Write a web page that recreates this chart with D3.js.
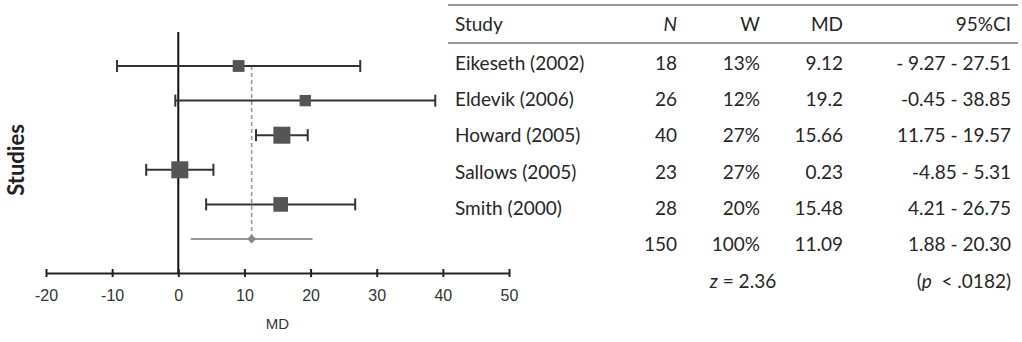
<!DOCTYPE html>
<html lang="en">

<head>
    <meta charset="UTF-8">
    <title>Forest plot</title>
    <script src="https://d3js.org/d3.v7.min.js"></script>
    <style>
        body { margin: 0; background: #fff; }
        .tbl { font-family: Lato, "Open Sans", sans-serif; font-size: 19px; fill: #262626; }
        .axis path, .axis line { stroke: #222; stroke-width: 2px; }
    </style>
</head>

<body>
    <svg></svg>
</body>

<script>
    // data
    const studies = ["Eikeseth (2002)", "Eldevik (2006)", "Howard (2005)", "Sallows (2005)", "Smith (2000)"];
    const nVals = [18, 26, 40, 23, 28];
    const weights = [13, 12, 27, 27, 20];
    const md = [9.12, 19.2, 15.66, 0.23, 15.48];
    const ciLow = [-9.27, -0.45, 11.75, -4.85, 4.21];
    const ciHigh = [27.51, 38.85, 19.57, 5.31, 26.75];
    const mdLabels = ["9.12", "19.2", "15.66", "0.23", "15.48"];
    const ciLabels = ["- 9.27 - 27.51", "-0.45 - 38.85", "11.75 - 19.57", "-4.85 - 5.31", "4.21 - 26.75"];

    // pooled result
    const totalN = 150, totalW = 100, pooledMD = 11.09, pooledLow = 1.88, pooledHigh = 20.30;
    const zLabel = "2.36", pLabel = ".0182";

    const xTicks = [-20, -10, 0, 10, 20, 30, 40, 50];

    const W = 1022, H = 342;
    const svg = d3.select("svg").attr("width", W).attr("height", H);

    const x = d3.scaleLinear().domain([-20, 50]).range([46, 509]);
    const rows = studies.concat(["Pooled"]);
    const y = d3.scalePoint().domain(rows).range([66, 239]);
    const size = d3.scaleSqrt().domain([0, 27]).range([0, 17]);
    const axisY = 273;

    // zero line
    svg.append("line")
        .attr("x1", x(0)).attr("x2", x(0))
        .attr("y1", 32).attr("y2", axisY)
        .attr("stroke", "#111").attr("stroke-width", 2);

    // dashed pooled line
    svg.append("line")
        .attr("x1", x(pooledMD)).attr("x2", x(pooledMD))
        .attr("y1", y(studies[0])).attr("y2", y("Pooled"))
        .attr("stroke", "#999").attr("stroke-width", 1.6)
        .attr("stroke-dasharray", "4,3");

    // axis
    const axis = svg.append("g")
        .attr("class", "axis")
        .attr("transform", `translate(0,${axisY})`)
        .call(d3.axisBottom(x).tickValues(xTicks).tickFormat(d => String(d))
            .tickSizeOuter(0).tickSizeInner(4).tickPadding(13))
        .attr("font-family", "'Liberation Sans', Arial, sans-serif")
        .attr("font-size", 16);
    axis.selectAll(".tick line").attr("y1", -4).attr("y2", 4);
    axis.selectAll(".tick text").attr("fill", "#333");

    svg.append("text")
        .attr("x", x(15)).attr("y", 323)
        .attr("text-anchor", "middle").attr("dominant-baseline", "central")
        .style("font-family", "'Liberation Sans', Arial, sans-serif")
        .style("font-size", "15px").style("fill", "#333")
        .text("MD");

    svg.append("text")
        .attr("transform", "translate(15,160) rotate(-90)")
        .attr("text-anchor", "middle").attr("dominant-baseline", "central")
        .style("font-family", "Lato, sans-serif")
        .style("font-size", "22px").style("font-weight", "bold").style("fill", "#222")
        .text("Studies");

    // study CIs
    const g = svg.selectAll(".study")
        .data(studies)
        .enter().append("g")
        .attr("class", "study");

    g.append("line")
        .attr("x1", (d, i) => x(ciLow[i])).attr("x2", (d, i) => x(ciHigh[i]))
        .attr("y1", d => y(d)).attr("y2", d => y(d))
        .attr("stroke", "#333").attr("stroke-width", 2);
    g.append("line")
        .attr("x1", (d, i) => x(ciLow[i])).attr("x2", (d, i) => x(ciLow[i]))
        .attr("y1", d => y(d) - 6).attr("y2", d => y(d) + 6)
        .attr("stroke", "#333").attr("stroke-width", 2);
    g.append("line")
        .attr("x1", (d, i) => x(ciHigh[i])).attr("x2", (d, i) => x(ciHigh[i]))
        .attr("y1", d => y(d) - 6).attr("y2", d => y(d) + 6)
        .attr("stroke", "#333").attr("stroke-width", 2);
    g.append("rect")
        .attr("x", (d, i) => x(md[i]) - size(weights[i]) / 2)
        .attr("y", (d, i) => y(d) - size(weights[i]) / 2)
        .attr("width", (d, i) => size(weights[i]))
        .attr("height", (d, i) => size(weights[i]))
        .attr("fill", "#555");

    // pooled estimate
    svg.append("line")
        .attr("x1", x(pooledLow)).attr("x2", x(pooledHigh))
        .attr("y1", y("Pooled")).attr("y2", y("Pooled"))
        .attr("stroke", "#999").attr("stroke-width", 2);
    svg.append("path")
        .attr("d", d3.symbol(d3.symbolDiamond2, 50)())
        .attr("transform", `translate(${x(pooledMD)},${y("Pooled")})`)
        .attr("fill", "#888");

    // table
    const tx = { study: 455, n: 677, w: 760, md: 843, ci: 1011 };
    const ty = d3.scalePoint().domain(d3.range(7)).range([62, 280]);
    const tbl = svg.append("g").attr("class", "tbl");

    tbl.append("line").attr("x1", 448).attr("x2", 1018).attr("y1", 5).attr("y2", 5)
        .attr("stroke", "#999").attr("stroke-width", 2);
    tbl.append("line").attr("x1", 448).attr("x2", 1018).attr("y1", 43).attr("y2", 43)
        .attr("stroke", "#999").attr("stroke-width", 2);

    function cell(xp, yp, txt, anchor) {
        return tbl.append("text")
            .attr("x", xp).attr("y", yp)
            .attr("text-anchor", anchor || "end")
            .attr("dominant-baseline", "central")
            .text(txt);
    }

    cell(tx.study, 23, "Study", "start");
    cell(tx.n, 23, "N").style("font-style", "italic");
    cell(tx.w, 23, "W");
    cell(tx.md, 23, "MD");
    cell(tx.ci, 23, "95%CI");

    studies.forEach((s, i) => {
        cell(tx.study, ty(i), s, "start");
        cell(tx.n, ty(i), nVals[i]);
        cell(tx.w, ty(i), weights[i] + "%");
        cell(tx.md, ty(i), mdLabels[i]);
        cell(tx.ci, ty(i), ciLabels[i]);
    });

    cell(tx.n, ty(5), totalN);
    cell(tx.w, ty(5), totalW + "%");
    cell(tx.md, ty(5), pooledMD.toFixed(2));
    cell(tx.ci, ty(5), pooledLow.toFixed(2) + " - " + pooledHigh.toFixed(2));

    const zt = cell(743, ty(6), "", "middle");
    zt.append("tspan").style("font-style", "italic").text("z");
    zt.append("tspan").text(" = " + zLabel);

    const pt = cell(tx.ci, ty(6), "");
    pt.append("tspan").text("(");
    pt.append("tspan").style("font-style", "italic").text("p");
    pt.append("tspan").text("\u00a0\u00a0< " + pLabel + ")");
</script>

</html>
